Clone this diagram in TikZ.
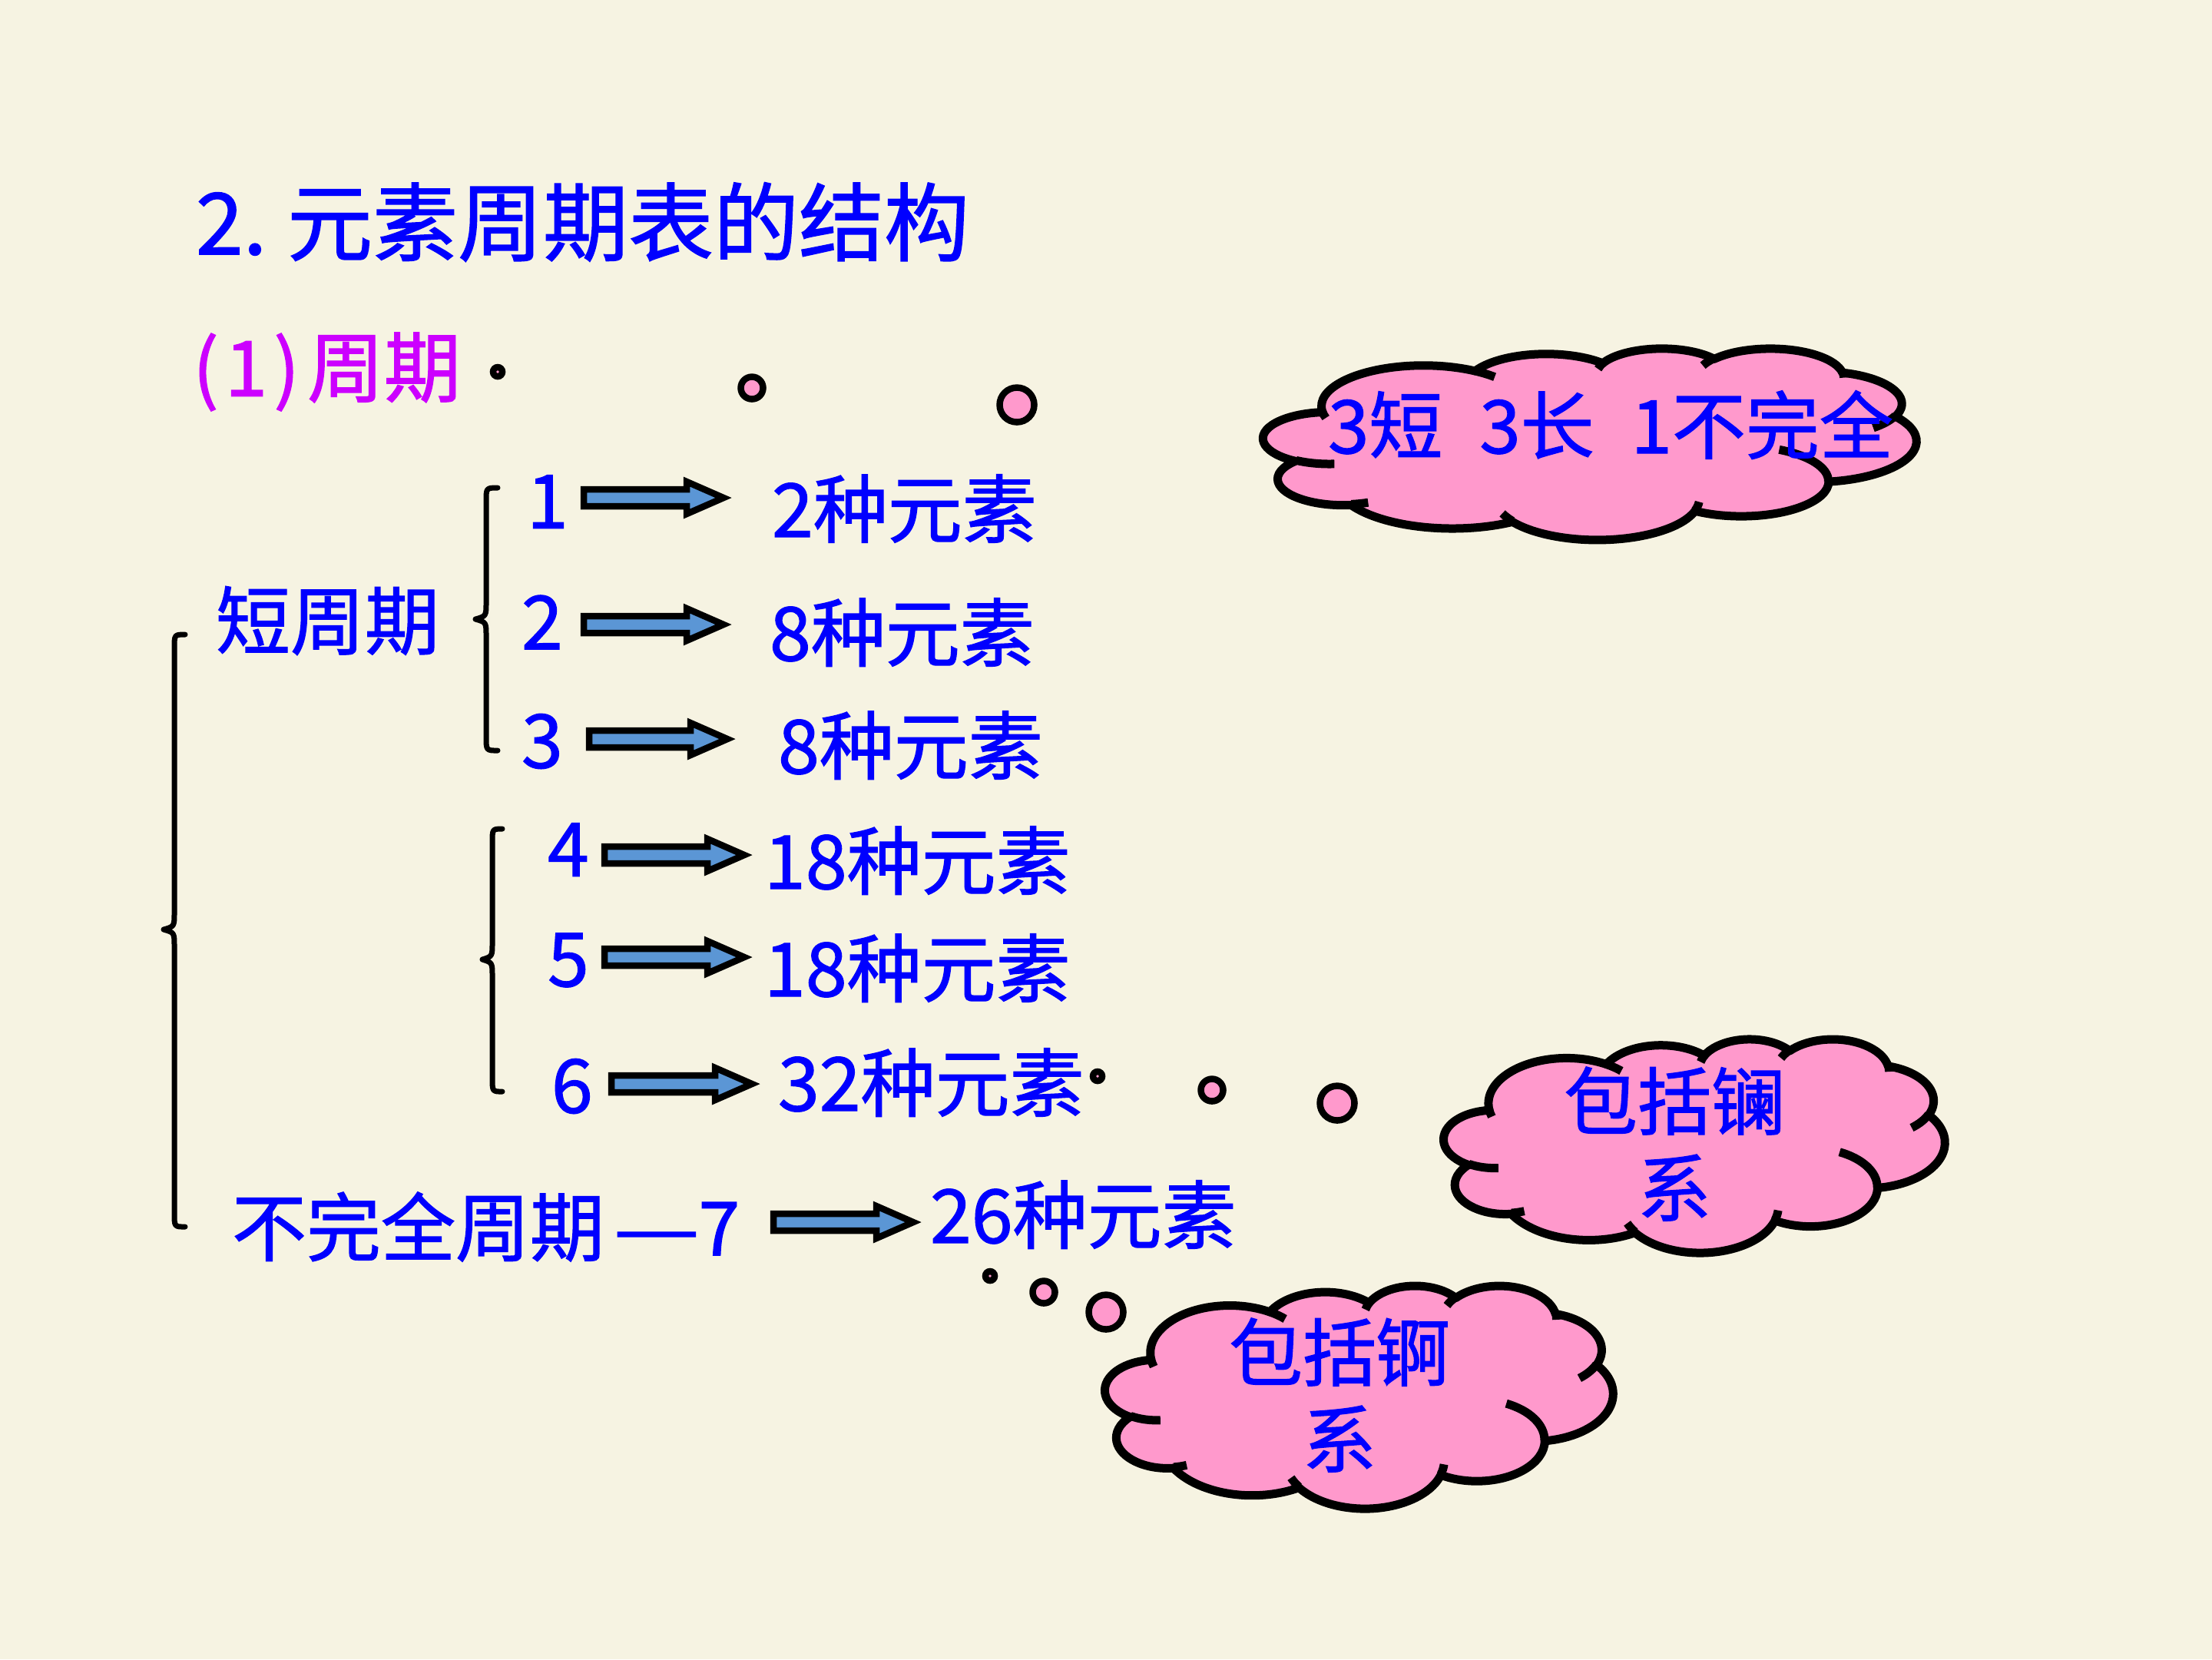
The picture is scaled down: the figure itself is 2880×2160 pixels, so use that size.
\documentclass[tikz,border=0pt]{standalone}
\usepackage{fontspec}
\newfontfamily\cjk{Noto Sans CJK SC}[FakeBold=1.3]
\usetikzlibrary{calc}
\definecolor{bgcol}{RGB}{246,243,226}
\definecolor{txtblue}{RGB}{0,0,255}
\definecolor{txtmag}{RGB}{204,0,255}
\definecolor{cloudpink}{RGB}{255,153,204}
\definecolor{arrowblue}{RGB}{91,150,213}
\tikzset{
  lbl/.style={font={\cjk\fontsize{9.7pt}{11.3pt}\selectfont}, text=txtblue, inner sep=0pt, anchor=west},
  cloudtxt/.style={font={\cjk\fontsize{9.6pt}{11.3pt}\selectfont}, text=txtblue, inner sep=0pt, align=center},
  dotc/.style={circle, draw=black, fill=cloudpink, line width=0.85pt, inner sep=0pt},
  bracestyle/.style={draw=black, line width=0.7pt, line cap=round, line join=round},
  cloudfill/.style={draw=black, fill=cloudpink, line width=1.1pt, line join=round},
  cloudline/.style={draw=black, line width=1.1pt},
  blockarrow/.style={draw=black, fill=arrowblue, line width=0.85pt, line join=miter, miter limit=10,
    to path={([yshift=1.1pt]\tikztostart) -- ([xshift=-4.8pt,yshift=1.1pt]\tikztotarget)
      -- ([xshift=-4.8pt,yshift=2.1pt]\tikztotarget) -- (\tikztotarget)
      -- ([xshift=-4.8pt,yshift=-2.1pt]\tikztotarget) -- ([xshift=-4.8pt,yshift=-1.1pt]\tikztotarget)
      -- ([yshift=-1.1pt]\tikztostart) -- cycle}}
}
\newcommand\mybrace[6]{%
  \draw[bracestyle] (#1,#4) .. controls (#2,#4) .. (#2,#4+18) -- (#2,#5-22)
    .. controls (#2,#5-4) .. (#3,#5) .. controls (#2,#5+4) .. (#2,#5+22)
    -- (#2,#6-18) .. controls (#2,#6) .. (#1,#6);}
\newcommand\pptcloud[4]{%
  \begin{scope}[shift={(#1,#2)}, xscale=#3/4320, yscale=#4/4320]
    \path[cloudfill] (390,1437)
      arc[start angle=-187.75, end angle=-59.64, x radius=675.3, y radius=919.0]
      arc[start angle=-152.02, end angle=-45.44, x radius=533.3, y radius=726.7]
      arc[start angle=-153.50, end angle=-37.33, x radius=436.5, y radius=594.5]
      arc[start angle=-139.71, end angle=-10.21, x radius=485.7, y radius=659.5]
      arc[start angle=-74.77, end angle=23.21, x radius=533.3, y radius=727.3]
      arc[start angle=-37.53, end angle=81.86, x radius=677.5, y radius=922.0]
      arc[start angle=0.46, end angle=121.98, x radius=578.5, y radius=786.7]
      arc[start angle=16.84, end angle=146.23, x radius=675.2, y radius=921.5]
      arc[start angle=58.98, end angle=150.20, x radius=772.0, y radius=1054.3]
      arc[start angle=83.31, end angle=223.10, x radius=436.0, y radius=591.8]
      arc[start angle=120.34, end angle=264.11, x radius=434.5, y radius=594.5]
      -- cycle;
    \draw[cloudline] (469.3,2617.7) arc[start angle=85.55, end angle=120.34, x radius=434.5, y radius=594.5];
    \draw[cloudline] (692.8,3489.9) arc[start angle=68.23, end angle=83.31, x radius=436.0, y radius=591.8];
    \draw[cloudline] (1647.8,3909.0) arc[start angle=146.23, end angle=158.47, x radius=675.2, y radius=921.5];
    \draw[cloudline] (2882.7,3475.1) arc[start angle=4.74, end angle=16.84, x radius=675.2, y radius=921.5];
    \draw[cloudline] (3412.9,2295.4) arc[start angle=-64.03, end angle=0.46, x radius=578.5, y radius=786.7];
    \draw[cloudline] (4179.8,1535.4) arc[start angle=23.21, end angle=49.64, x radius=533.3, y radius=727.3];
    \draw[cloudline] (3832.4,542.6) arc[start angle=-10.21, end angle=0.82, x radius=485.7, y radius=659.5];
    \draw[cloudline] (2907.8,395.2) arc[start angle=-156.29, end angle=-139.71, x radius=485.7, y radius=659.5];
    \draw[cloudline] (2214.1,472.0) arc[start angle=-167.73, end angle=-153.50, x radius=436.5, y radius=594.5];
    \draw[cloudline] (1400.0,519.2) arc[start angle=-59.64, end angle=-45.72, x radius=675.3, y radius=919.0];
    \draw[cloudline] (412.7,1578.9) arc[start angle=163.19, end angle=172.26, x radius=675.3, y radius=919.0];
  \end{scope}}
\begin{document}
\begin{tikzpicture}[x=0.1pt, y=-0.1pt]
\fill[bgcol] (0,0) rectangle (2880,2160);
\useasboundingbox (0,0) rectangle (2880,2160);

% title
\node[lbl, font={\cjk\fontsize{11.1pt}{13pt}\selectfont}] (title) at (253,289) {2.\kern0.24em元素周期表的结构};
\node[lbl, text=txtmag, font={\cjk\fontsize{10pt}{12pt}\selectfont}] (sub) at (249,484) {(\kern0.08em1\kern0.08em)\kern0.1em周期};

% thought dots
\node[dotc, minimum size=1.2pt] (c1) at (648,484) {};
\node[dotc, minimum size=2.9pt] (c2) at (979,505) {};
\node[dotc, minimum size=4.5pt] (c3) at (1324,527) {};
\node[dotc, minimum size=1.2pt] (c4) at (1429,1401) {};
\node[dotc, minimum size=2.9pt] (c5) at (1578,1419) {};
\node[dotc, minimum size=4.5pt] (c6) at (1741,1436) {};
\node[dotc, minimum size=1.2pt] (c7) at (1289,1661) {};
\node[dotc, minimum size=2.9pt] (c8) at (1359,1682) {};
\node[dotc, minimum size=4.5pt] (c9) at (1440,1708) {};

% clouds
\pptcloud{1645}{453}{850}{249}
\pptcloud{1880}{1352}{652}{278}
\pptcloud{1439}{1673}{661}{290}
\node[cloudtxt] (k1) at (2097,553) {3短\enspace 3长\enspace 1不完全};
\node[cloudtxt] (k2) at (2180,1489) {包括镧\\系};
\node[cloudtxt] (k3) at (1744,1816) {包括锕\\系};

% braces
\mybrace{241}{227}{213}{826}{1210}{1597}
\mybrace{648}{633}{619}{635}{806}{977}
\mybrace{654}{641}{628}{1079}{1249}{1421}

% labels
\node[lbl] (short) at (279,808) {短周期};
\node[lbl] (n1) at (684,653) {1};
\node[lbl] (n2) at (677,810) {2};
\node[lbl] (n3) at (677,965) {3};
\node[lbl] (n4) at (711,1106) {4};
\node[lbl] (n5) at (711,1250) {5};
\node[lbl] (n6) at (716,1414) {6};
\node[lbl] (e1) at (1003,662) {2种元素};
\node[lbl] (e2) at (1000,823) {8种元素};
\node[lbl] (e3) at (1011,970) {8种元素};
\node[lbl] (e4) at (993,1120) {18种元素};
\node[lbl] (e5) at (993,1260) {18种元素};
\node[lbl] (e6) at (1011,1409) {32种元素};
\node[lbl] (inc) at (300,1597) {不完全周期\kern0.12em\scalebox{1.3}[1]{—}\kern-0.02em 7};
\node[lbl] (e7) at (1209,1581) {26种元素};

% block arrows
\coordinate (a1s) at (760,648);  \coordinate (a1e) at (942,648);
\coordinate (a2s) at (760,813);  \coordinate (a2e) at (942,813);
\coordinate (a3s) at (767,962);  \coordinate (a3e) at (947,962);
\coordinate (a4s) at (787,1113); \coordinate (a4e) at (969,1113);
\coordinate (a5s) at (787,1246); \coordinate (a5e) at (969,1246);
\coordinate (a6s) at (796,1411); \coordinate (a6e) at (979,1411);
\coordinate (a7s) at (1007,1591); \coordinate (a7e) at (1189,1591);
\draw[blockarrow] (a1s) to (a1e);
\draw[blockarrow] (a2s) to (a2e);
\draw[blockarrow] (a3s) to (a3e);
\draw[blockarrow] (a4s) to (a4e);
\draw[blockarrow] (a5s) to (a5e);
\draw[blockarrow] (a6s) to (a6e);
\draw[blockarrow] (a7s) to (a7e);
\end{tikzpicture}
\end{document}
